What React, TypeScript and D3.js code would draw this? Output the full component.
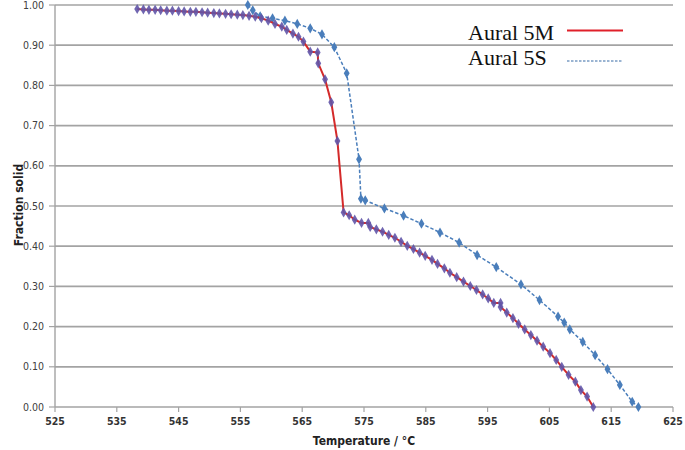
import React from "react";
import * as d3 from "d3";

const redT = [538.3,539.3,540.2,541.2,542.1,543.1,544.0,545.0,545.9,546.9,547.8,548.8,549.7,550.7,551.6,552.6,553.5,554.5,555.4,556.4,557.4,558.4,559.5,560.6,561.7,562.5,563.5,564.4,565.2,566.3,567.5,567.6,568.7,569.7,570.7,571.7,572.6,573.5,574.6,575.7,576.0,577.0,578.0,579.0,580.0,581.0,582.0,583.0,584.0,584.9,586.0,586.9,588.0,588.9,590.0,591.1,592.2,593.2,594.2,595.1,596.0,597.1,597.1,598.1,599.1,600.0,601.0,602.0,603.0,604.0,605.1,606.1,607.0,608.1,609.2,610.1,611.1,612.1];
const redFs = [0.990,0.989,0.988,0.988,0.987,0.986,0.986,0.985,0.984,0.983,0.983,0.982,0.981,0.980,0.979,0.978,0.977,0.976,0.975,0.973,0.971,0.967,0.961,0.953,0.946,0.938,0.929,0.921,0.909,0.884,0.882,0.855,0.815,0.758,0.662,0.484,0.477,0.466,0.458,0.458,0.448,0.442,0.436,0.428,0.421,0.411,0.401,0.393,0.384,0.376,0.366,0.356,0.345,0.334,0.323,0.312,0.301,0.291,0.280,0.270,0.259,0.259,0.249,0.235,0.221,0.207,0.193,0.179,0.165,0.150,0.134,0.117,0.100,0.080,0.063,0.042,0.026,0.000];

const blueT = [556.2,557.0,558.2,560.2,562.2,564.2,566.3,568.2,570.2,572.2,574.2,574.5,575.2,578.3,581.4,584.3,587.3,590.4,593.3,596.4,600.4,603.4,606.4,607.4,608.3,610.4,612.4,614.4,616.4,618.4,619.4];
const blueFs = [1.000,0.987,0.972,0.967,0.961,0.953,0.942,0.927,0.895,0.830,0.616,0.518,0.514,0.494,0.476,0.456,0.434,0.409,0.378,0.348,0.305,0.266,0.225,0.210,0.193,0.162,0.129,0.094,0.055,0.013,0.000];

const xTicks = [525,535,545,555,565,575,585,595,605,615,625];
const yTicks = [0,0.1,0.2,0.3,0.4,0.5,0.6,0.7,0.8,0.9,1.0];

const seriesNames = ["Aural 5M", "Aural 5S"];

export default function App() {
  const W = 685, H = 450;
  const x = d3.scaleLinear().domain([525, 625]).range([55, 673]);
  const y = d3.scaleLinear().domain([0, 1]).range([407, 5]);
  const red = redT.map((t, i) => [t, redFs[i]] as [number, number]);
  const blue = blueT.map((t, i) => [t, blueFs[i]] as [number, number]);
  const line = d3.line<[number, number]>().x(d => x(d[0])).y(d => y(d[1]));
  const diamond = d3.symbol().type(d3.symbolDiamond).size(30)()!;
  const gridColor = "#a3a3a3";
  const tickFont = "'Liberation Sans Narrow', 'Arial Narrow', 'DejaVu Sans Condensed', sans-serif";
  const serif = "'Liberation Serif', 'Times New Roman', serif";
  return (
    <svg width={W} height={H} style={{ position: "absolute", left: 0, top: 0, background: "#fff" }}>
      <rect x={0} y={0} width={W} height={H} fill="#fff" />
      {yTicks.map(v => (
        <g key={"g" + v}>
          {v > 0 && <line x1={x(525)} x2={x(625)} y1={y(v)} y2={y(v)} stroke={gridColor} strokeWidth={1.7} />}
          <line x1={49} x2={x(525)} y1={y(v)} y2={y(v)} stroke={gridColor} strokeWidth={1.2} />
          <text x={44} y={y(v) + 3.5} textAnchor="end" fontSize={10.5} fill="#404040" fontFamily={tickFont}>{v.toFixed(2)}</text>
        </g>
      ))}
      <line x1={x(525)} x2={x(525)} y1={y(1)} y2={y(0)} stroke={gridColor} strokeWidth={1.4} />
      <line x1={x(525)} x2={x(625)} y1={y(0)} y2={y(0)} stroke={gridColor} strokeWidth={1.7} />
      {xTicks.map(v => (
        <g key={"x" + v}>
          <line x1={x(v)} x2={x(v)} y1={y(0)} y2={y(0) + 5} stroke={gridColor} strokeWidth={1.2} />
          <text x={x(v)} y={425} textAnchor="middle" fontSize={10.5} fontWeight="bold" fill="#333" fontFamily={tickFont}>{v}</text>
        </g>
      ))}
      <text x={364} y={445} textAnchor="middle" fontSize={12} fontWeight="bold" fill="#222" fontFamily={tickFont}>Temperature / °C</text>
      <text transform="translate(23,205) rotate(-90)" textAnchor="middle" fontSize={12} fontWeight="bold" fill="#222" fontFamily={tickFont}>Fraction solid</text>

      <path d={line(blue)!} fill="none" stroke="#4a7ebb" strokeWidth={1.5} strokeDasharray="3.5,2" />
      {blue.map((d, i) => (
        <path key={"b" + i} d={diamond} transform={`translate(${x(d[0])},${y(d[1])})`} fill="#4a7ebb" />
      ))}
      <path d={line(red)!} fill="none" stroke="#d42a2a" strokeWidth={2} />
      {red.map((d, i) => (
        <path key={"r" + i} d={diamond} transform={`translate(${x(d[0])},${y(d[1])})`} fill="#6155a8" opacity={0.9} />
      ))}

      <text x={468} y={39.5} textAnchor="start" fontSize={22} fill="#111" fontFamily={serif}>{seriesNames[0]}</text>
      <line x1={567} x2={623} y1={30.5} y2={30.5} stroke="#e0202a" strokeWidth={2} />
      <text x={468} y={65} textAnchor="start" fontSize={22} fill="#111" fontFamily={serif}>{seriesNames[1]}</text>
      <line x1={567} x2={623} y1={61} y2={61} stroke="#7a9cc4" strokeWidth={1.5} strokeDasharray="2.5,1.5" />
    </svg>
  );
}
